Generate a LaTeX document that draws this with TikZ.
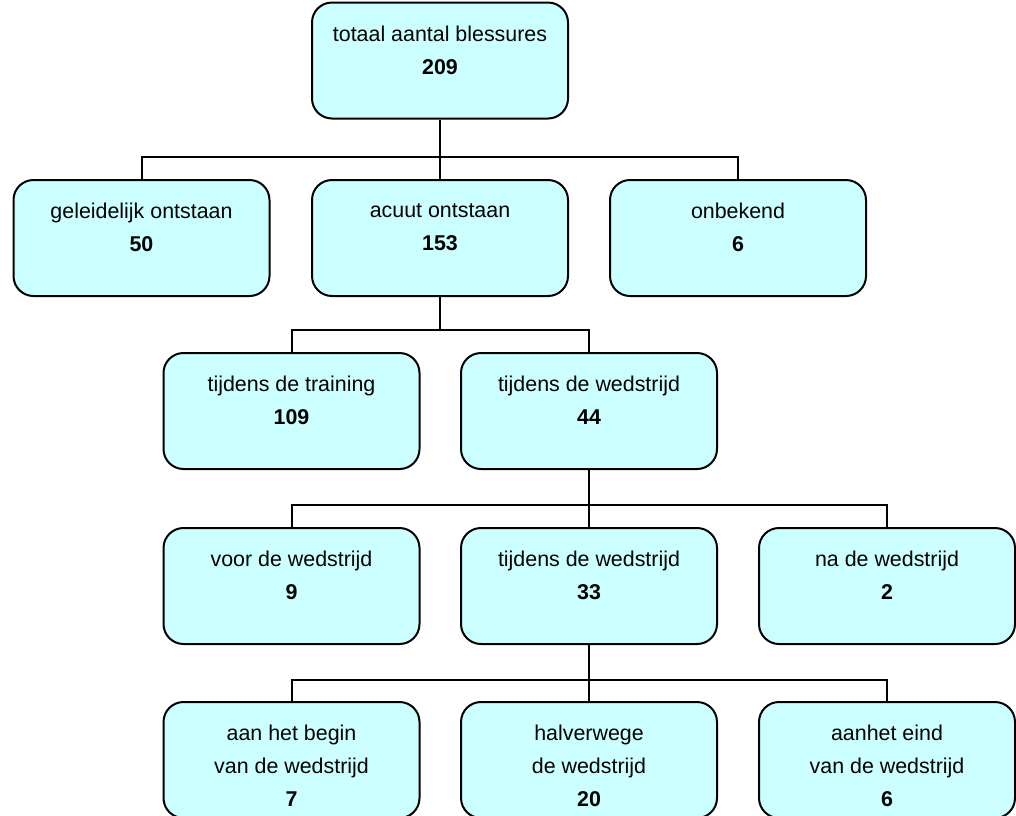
\documentclass[tikz,border=0pt]{standalone}
\usepackage{fontspec}
\setmainfont{Liberation Sans}
\usepackage{tikz}
\definecolor{lichtblauw}{RGB}{204,255,255}

\begin{document}
\begin{tikzpicture}[x=0.5pt,y=-0.5pt,
	blok/.style={draw=black,line width=1pt,fill=lichtblauw,rounded corners=10pt,
		minimum width=128pt,minimum height=58pt,inner sep=0pt},
	tekst/.style={anchor=north,align=center,inner sep=0pt,yshift=-12pt,
		font=\fontsize{10.7}{16.5}\selectfont},
	lijn/.style={line width=1pt}]

	\useasboundingbox (0,0) rectangle (1016,815);
	\clip (0,0) rectangle (1016,815);

	% verbindingen
	\coordinate (bus1) at (440,157);
	\coordinate (bus2) at (440,330);
	\coordinate (bus3) at (589,505);
	\coordinate (bus4) at (589,680);

	\node[blok] (totaal) at (440,60.5) {};
	\node[blok] (geleid) at (141.5,238) {};
	\node[blok] (acuut) at (440,238) {};
	\node[blok] (onbek) at (738,238) {};
	\node[blok] (training) at (291.5,411) {};
	\node[blok] (wedstrijd) at (589,411) {};
	\node[blok] (voor) at (291.5,586) {};
	\node[blok] (tijdens) at (589,586) {};
	\node[blok] (na) at (887,586) {};
	\node[blok] (begin) at (291.5,760) {};
	\node[blok] (half) at (589,760) {};
	\node[blok] (eind) at (887,760) {};

	\draw[lijn] (totaal.south) -- (bus1);
	\draw[lijn] (geleid.north) |- (bus1) -| (onbek.north);
	\draw[lijn] (bus1) -- (acuut.north);

	\draw[lijn] (acuut.south) -- (bus2);
	\draw[lijn] (training.north) |- (bus2) -| (wedstrijd.north);

	\draw[lijn] (wedstrijd.south) -- (bus3);
	\draw[lijn] (voor.north) |- (bus3) -| (na.north);
	\draw[lijn] (bus3) -- (tijdens.north);

	\draw[lijn] (tijdens.south) -- (bus4);
	\draw[lijn] (begin.north) |- (bus4) -| (eind.north);
	\draw[lijn] (bus4) -- (half.north);

	% teksten
	\node[tekst] (t-totaal) at (totaal.north) {totaal aantal blessures\\\textbf{209}};
	\node[tekst] (t-geleid) at (geleid.north) {geleidelijk ontstaan\\\textbf{50}};
	\node[tekst] (t-acuut) at (acuut.north) {acuut ontstaan\\\textbf{153}};
	\node[tekst] (t-onbek) at (onbek.north) {onbekend\\\textbf{6}};
	\node[tekst] (t-training) at (training.north) {tijdens de training\\\textbf{109}};
	\node[tekst] (t-wedstrijd) at (wedstrijd.north) {tijdens de wedstrijd\\\textbf{44}};
	\node[tekst] (t-voor) at (voor.north) {voor de wedstrijd\\\textbf{9}};
	\node[tekst] (t-tijdens) at (tijdens.north) {tijdens de wedstrijd\\\textbf{33}};
	\node[tekst] (t-na) at (na.north) {na de wedstrijd\\\textbf{2}};
	\node[tekst] (t-begin) at (begin.north) {aan het begin\\van de wedstrijd\\\textbf{7}};
	\node[tekst] (t-half) at (half.north) {halverwege\\de wedstrijd\\\textbf{20}};
	\node[tekst] (t-eind) at (eind.north) {aanhet eind\\van de wedstrijd\\\textbf{6}};

\end{tikzpicture}
\end{document}
